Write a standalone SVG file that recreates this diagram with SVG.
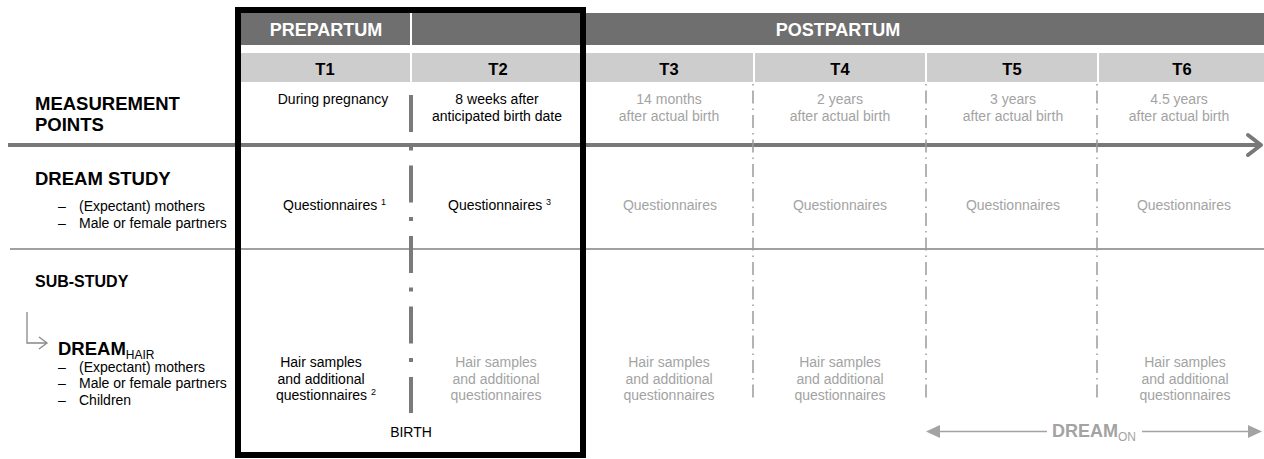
<svg xmlns="http://www.w3.org/2000/svg" width="1264" height="459" viewBox="0 0 1264 459">
<style>
text{font-family:"Liberation Sans",Arial,sans-serif}
.hdr{fill:#6f6f6f}
.trow{fill:#cdcdcd}
.hdrt{font-size:18px;font-weight:bold;fill:#fff;text-anchor:middle}
.tl{font-size:16.5px;font-weight:bold;fill:#000;text-anchor:middle}
.lab{font-size:18.5px;font-weight:bold;fill:#000}
.sub{font-size:16px;font-weight:bold;fill:#000}
.bul{font-size:14px;fill:#000}
.c{font-size:14px;text-anchor:middle;fill:#000}
.cg{font-size:14px;text-anchor:middle;fill:#a3a3a3}
.q{font-size:14px;fill:#000}
.qg{font-size:14px;text-anchor:middle;fill:#a3a3a3}
.sup{font-size:9px}
.vline{stroke:#9a9a9a;stroke-width:1.5;stroke-dasharray:13 5 1.5 5;fill:none}
</style>
<defs>
<marker id="tri" viewBox="0 0 14 13" refX="0" refY="6.5" markerWidth="14" markerHeight="13" markerUnits="userSpaceOnUse" orient="auto-start-reverse">
<path d="M0,0 L14,6.5 L0,13 Z" fill="#a3a3a3"/>
</marker>
</defs>

<g id="header-prepartum">
<rect class="hdr" x="241" y="13" width="169" height="32"/>
<text class="hdrt" x="326" y="36">PREPARTUM</text>
</g>
<g id="header-postpartum">
<rect class="hdr" x="412" y="13" width="852" height="32"/>
<text class="hdrt" x="838" y="36">POSTPARTUM</text>
</g>
<g id="T1"><rect class="trow" x="241" y="53" width="169" height="29"/><text class="tl" x="325" y="75">T1</text></g>
<g id="T2"><rect class="trow" x="412" y="53" width="171" height="29"/><text class="tl" x="498" y="75">T2</text></g>
<g id="T3"><rect class="trow" x="585" y="53" width="168" height="29"/><text class="tl" x="669" y="75">T3</text></g>
<g id="T4"><rect class="trow" x="755" y="53" width="170" height="29"/><text class="tl" x="840" y="75">T4</text></g>
<g id="T5"><rect class="trow" x="927" y="53" width="170" height="29"/><text class="tl" x="1012" y="75">T5</text></g>
<g id="T6"><rect class="trow" x="1099" y="53" width="165" height="29"/><text class="tl" x="1182" y="75">T6</text></g>

<g id="row-labels">
<text class="lab" x="35" y="110">MEASUREMENT</text>
<text class="lab" x="35" y="131">POINTS</text>
<text class="lab" x="35" y="185">DREAM STUDY</text>
<text class="bul" x="58" y="211">–</text>
<text class="bul" x="79" y="211">(Expectant) mothers</text>
<text class="bul" x="58" y="228">–</text>
<text class="bul" x="79" y="228">Male or female partners</text>
<text class="sub" x="35" y="287">SUB-STUDY</text>
<text class="lab" x="58" y="355">DREAM<tspan font-size="12" font-weight="normal" dy="3.5">HAIR</tspan></text>
<text class="bul" x="58" y="372">–</text>
<text class="bul" x="79" y="372">(Expectant) mothers</text>
<text class="bul" x="58" y="388">–</text>
<text class="bul" x="79" y="388">Male or female partners</text>
<text class="bul" x="58" y="405">–</text>
<text class="bul" x="79" y="405">Children</text>
</g>

<g id="measurement-points">
<text class="c" x="333" y="104">During pregnancy</text>
<text class="c" x="497" y="104">8 weeks after</text>
<text class="c" x="497" y="121">anticipated birth date</text>
<text class="cg" x="669" y="104">14 months</text>
<text class="cg" x="669" y="121">after actual birth</text>
<text class="cg" x="840" y="104">2 years</text>
<text class="cg" x="840" y="121">after actual birth</text>
<text class="cg" x="1013" y="104">3 years</text>
<text class="cg" x="1013" y="121">after actual birth</text>
<text class="cg" x="1179" y="104">4.5 years</text>
<text class="cg" x="1179" y="121">after actual birth</text>
</g>

<g id="dream-study-cells">
<text class="q" x="283" y="210">Questionnaires <tspan class="sup" dy="-5">1</tspan></text>
<text class="q" x="448" y="210">Questionnaires <tspan class="sup" dy="-5">3</tspan></text>
<text class="qg" x="670" y="210">Questionnaires</text>
<text class="qg" x="840" y="210">Questionnaires</text>
<text class="qg" x="1013" y="210">Questionnaires</text>
<text class="qg" x="1184" y="210">Questionnaires</text>
</g>

<g id="dream-hair-cells">
<text class="c" x="321" y="367">Hair samples</text>
<text class="c" x="321" y="384">and additional</text>
<text class="c" x="326" y="400">questionnaires <tspan class="sup" dy="-5">2</tspan></text>
<text class="cg" x="496" y="367">Hair samples</text>
<text class="cg" x="496" y="384">and additional</text>
<text class="cg" x="496" y="400">questionnaires</text>
<text class="cg" x="669" y="367">Hair samples</text>
<text class="cg" x="669" y="384">and additional</text>
<text class="cg" x="669" y="400">questionnaires</text>
<text class="cg" x="840" y="367">Hair samples</text>
<text class="cg" x="840" y="384">and additional</text>
<text class="cg" x="840" y="400">questionnaires</text>
<text class="cg" x="1185" y="367">Hair samples</text>
<text class="cg" x="1185" y="384">and additional</text>
<text class="cg" x="1185" y="400">questionnaires</text>
</g>

<g id="connectors">
<line x1="8" y1="145" x2="1259" y2="145" stroke="#787878" stroke-width="4"/>
<polyline points="1248,135 1261,145 1248,155" fill="none" stroke="#787878" stroke-width="4" stroke-linecap="round" stroke-linejoin="round"/>
<line x1="10" y1="249" x2="1264" y2="249" stroke="#808080" stroke-width="1.5"/>
<line x1="411" y1="95" x2="411" y2="413" stroke="#7a7a7a" stroke-width="4" stroke-dasharray="37 14.5 4 15"/>
<line class="vline" x1="753" y1="84" x2="753" y2="402" stroke-dashoffset="-6.5"/>
<line class="vline" x1="926" y1="84" x2="926" y2="402" stroke-dashoffset="-6.5"/>
<line class="vline" x1="1097" y1="84" x2="1097" y2="402" stroke-dashoffset="-6.5"/>
<path d="M27,312 V343 H47" fill="none" stroke="#888" stroke-width="1.3"/>
<polyline points="39,337 47,343 39,349" fill="none" stroke="#888" stroke-width="1.3"/>
<line x1="940" y1="431.5" x2="1047" y2="431.5" stroke="#a3a3a3" stroke-width="1.5" marker-start="url(#tri)"/>
<line x1="1142" y1="431.5" x2="1248" y2="431.5" stroke="#a3a3a3" stroke-width="1.5" marker-end="url(#tri)"/>
</g>

<g id="birth-label">
<text x="411" y="437" font-size="14" text-anchor="middle" fill="#000">BIRTH</text>
</g>

<g id="dream-on">
<text x="1052" y="437" font-size="18" font-weight="bold" fill="#a3a3a3">DREAM<tspan font-size="12" font-weight="normal" dy="4">ON</tspan></text>
</g>

<g id="prepartum-box">
<rect x="238" y="10" width="345" height="445" fill="none" stroke="#000" stroke-width="6"/>
</g>
</svg>
